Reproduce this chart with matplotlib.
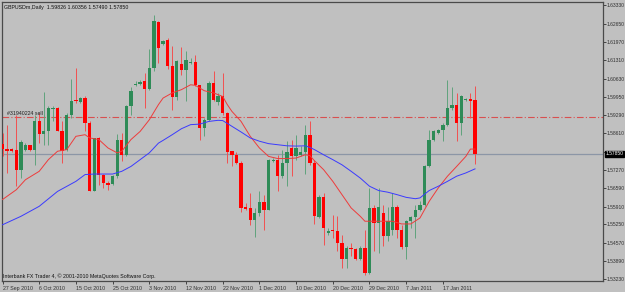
import numpy as np
import matplotlib
matplotlib.use("Agg")
import matplotlib.pyplot as plt
from matplotlib.transforms import blended_transform_factory

# ---------------- data ----------------
opens = [1.5822, 1.5805, 1.5802, 1.5801, 1.5727, 1.5801, 1.5817, 1.5801, 1.5905, 1.5859,
         1.5871, 1.5951, 1.5954, 1.5871, 1.5801, 1.5930, 1.5985, 1.5977, 1.5991, 1.5899,
         1.5650, 1.5844, 1.5709, 1.5678, 1.5674, 1.5703, 1.5835, 1.5782, 1.5961, 1.6038,
         1.6043, 1.6055, 1.6026, 1.6102, 1.6273, 1.6190, 1.6206, 1.6108, 1.5994, 1.6117,
         1.6096, 1.6120, 1.6124, 1.6038, 1.5881, 1.5911, 1.6047, 1.5977, 1.5997, 1.5936,
         1.5795, 1.5782, 1.5752, 1.5588, 1.5586, 1.5542, 1.5567, 1.5607, 1.5580, 1.5758,
         1.5764, 1.5703, 1.5752, 1.5807, 1.5776, 1.5782, 1.5792, 1.5856, 1.5752, 1.5551,
         1.5625, 1.5494, 1.5506, 1.5502, 1.5457, 1.5399, 1.5438, 1.5436, 1.5399, 1.5438,
         1.5346, 1.5586, 1.5531, 1.5567, 1.5481, 1.5506, 1.5590, 1.5506, 1.5441, 1.5537,
         1.5551, 1.5580, 1.5598, 1.5739, 1.5838, 1.5862, 1.5875, 1.5893, 1.5954, 1.5967,
         1.5899, 1.5983, 1.5989, 1.59826]
highs = [1.5862, 1.5893, 1.5807, 1.5930, 1.5838, 1.5825, 1.5819, 1.5930, 1.5936, 1.6013,
         1.5961, 1.5961, 1.5957, 1.5905, 1.5936, 1.6063, 1.6102, 1.5994, 1.5997, 1.5905,
         1.5844, 1.5846, 1.5711, 1.5684, 1.5709, 1.5859, 1.5862, 1.5967, 1.6031, 1.6053,
         1.6059, 1.6083, 1.6173, 1.6298, 1.6276, 1.6206, 1.6212, 1.6182, 1.6133, 1.6178,
         1.6163, 1.6139, 1.6151, 1.6038, 1.5918, 1.6053, 1.6090, 1.6010, 1.6083, 1.5940,
         1.5797, 1.5792, 1.5758, 1.5604, 1.5641, 1.5586, 1.5647, 1.5635, 1.5768, 1.5770,
         1.5782, 1.5801, 1.5832, 1.5838, 1.5856, 1.5813, 1.5891, 1.5905, 1.5764, 1.5635,
         1.5641, 1.5512, 1.5561, 1.5555, 1.5488, 1.5445, 1.5457, 1.5438, 1.5445, 1.5506,
         1.5660, 1.5598, 1.5660, 1.5598, 1.5588, 1.5641, 1.5598, 1.5524, 1.5543, 1.5555,
         1.5598, 1.5610, 1.5746, 1.5875, 1.5875, 1.5878, 1.5899, 1.6059, 1.6031, 1.6010,
         1.6004, 1.5991, 1.6010, 1.60356]
lows = [1.5776, 1.5715, 1.5792, 1.5666, 1.5696, 1.5797, 1.5797, 1.5746, 1.5825, 1.5819,
        1.5819, 1.5905, 1.5868, 1.5752, 1.5797, 1.5918, 1.5973, 1.5973, 1.5868, 1.5647,
        1.5647, 1.5672, 1.5660, 1.5653, 1.5672, 1.5696, 1.5758, 1.5776, 1.5930, 1.6034,
        1.6040, 1.5954, 1.6022, 1.6090, 1.6120, 1.6188, 1.6099, 1.5948, 1.5985, 1.6077,
        1.5981, 1.6117, 1.6034, 1.5838, 1.5850, 1.5905, 1.5979, 1.5967, 1.5930, 1.5752,
        1.5739, 1.5748, 1.5571, 1.5578, 1.5522, 1.5478, 1.5555, 1.5506, 1.5577, 1.5755,
        1.5650, 1.5696, 1.5666, 1.5703, 1.5764, 1.5776, 1.5711, 1.5746, 1.5527, 1.5549,
        1.5448, 1.5488, 1.5475, 1.5426, 1.5365, 1.5365, 1.5408, 1.5395, 1.5395, 1.5338,
        1.5343, 1.5426, 1.5420, 1.5445, 1.5463, 1.5488, 1.5475, 1.5436, 1.5399, 1.5512,
        1.5475, 1.5574, 1.5592, 1.5736, 1.5834, 1.5859, 1.5832, 1.5887, 1.5948, 1.5832,
        1.5856, 1.5979, 1.5918, 1.57490]
closes = [1.5805, 1.5797, 1.5797, 1.5727, 1.5829, 1.5819, 1.5801, 1.5905, 1.5859, 1.5871,
          1.5954, 1.5956, 1.5871, 1.5797, 1.5930, 1.5981, 1.5979, 1.5991, 1.5899, 1.5650,
          1.5844, 1.5709, 1.5678, 1.5672, 1.5703, 1.5835, 1.5782, 1.5961, 1.6016, 1.6044,
          1.6050, 1.6026, 1.6102, 1.6274, 1.6176, 1.6203, 1.6108, 1.5994, 1.6129, 1.6096,
          1.6133, 1.6124, 1.6038, 1.5881, 1.5911, 1.6047, 1.5985, 1.5997, 1.5936, 1.5792,
          1.5782, 1.5752, 1.5586, 1.5581, 1.5543, 1.5567, 1.5607, 1.5580, 1.5764, 1.5764,
          1.5703, 1.5752, 1.5792, 1.5776, 1.5807, 1.5792, 1.5856, 1.5752, 1.5555, 1.5625,
          1.5512, 1.5502, 1.5500, 1.5457, 1.5399, 1.5438, 1.5435, 1.5399, 1.5438, 1.5346,
          1.5586, 1.5531, 1.5590, 1.5481, 1.5537, 1.5590, 1.5506, 1.5441, 1.5537, 1.5551,
          1.5580, 1.5598, 1.5739, 1.5838, 1.5868, 1.5875, 1.5893, 1.5954, 1.5967, 1.5899,
          1.5997, 1.5989, 1.5981, 1.57850]

# red (fast) moving average, read at selected bars
ma_fast_bars = [0, 3, 5, 8, 10, 12, 14, 16, 18, 19, 21, 23, 25, 26, 28, 30, 32, 34, 35, 37,
                39, 41, 42, 44, 46, 48, 49, 50, 52, 54, 56, 58, 60, 62, 64, 66, 67, 68, 70, 72,
                74, 76, 78, 79, 81, 83, 85, 87, 89, 91, 93, 95, 97, 99, 101, 102, 103]
ma_fast_vals = [1.5617, 1.5653, 1.5690, 1.5721, 1.5764, 1.5795, 1.5801, 1.5850, 1.5856, 1.5844,
                1.5838, 1.5807, 1.5789, 1.5795, 1.5838, 1.5868, 1.5911, 1.5967, 1.5991, 1.6010,
                1.6022, 1.6040, 1.6038, 1.6018, 1.6010, 1.5997, 1.5967, 1.5942, 1.5905, 1.5850,
                1.5807, 1.5776, 1.5768, 1.5768, 1.5770, 1.5782, 1.5779, 1.5760, 1.5727, 1.5684,
                1.5635, 1.5586, 1.5555, 1.5537, 1.5537, 1.5537, 1.5537, 1.5527, 1.5527, 1.5549,
                1.5610, 1.5660, 1.5703, 1.5739, 1.5776, 1.5803, 1.5803]
# blue (slow) moving average, read at selected bars
ma_slow_bars = [0, 4, 8, 12, 16, 18, 20, 24, 26, 28, 30, 32, 34, 35, 37, 39, 41, 43, 45, 47,
                48, 50, 52, 54, 56, 58, 60, 62, 64, 66, 67, 68, 70, 72, 74, 76, 78, 80, 82, 84,
                86, 88, 90, 91, 93, 95, 97, 99, 101, 103]
ma_slow_vals = [1.5524, 1.5555, 1.5592, 1.5647, 1.5684, 1.5709, 1.5711, 1.5711, 1.5721, 1.5739,
                1.5764, 1.5789, 1.5825, 1.5835, 1.5856, 1.5878, 1.5893, 1.5895, 1.5905, 1.5909,
                1.5908, 1.5887, 1.5866, 1.5844, 1.5832, 1.5823, 1.5819, 1.5815, 1.5814, 1.5815,
                1.5809, 1.5801, 1.5782, 1.5764, 1.5745, 1.5721, 1.5696, 1.5666, 1.5650, 1.5644,
                1.5635, 1.5625, 1.5620, 1.5623, 1.5650, 1.5666, 1.5684, 1.5703, 1.5715, 1.5730]

date_labels = ["27 Sep 2010", "6 Oct 2010", "15 Oct 2010", "25 Oct 2010", "3 Nov 2010",
               "12 Nov 2010", "22 Nov 2010", "1 Dec 2010", "10 Dec 2010", "20 Dec 2010",
               "29 Dec 2010", "7 Jan 2011", "17 Jan 2011"]
date_label_bars = [0, 8, 16, 24, 32, 40, 48, 56, 64, 72, 80, 88, 96]
price_ticks = [1.63330, 1.62650, 1.61970, 1.61310, 1.60630, 1.59950, 1.59290, 1.58610,
               1.57930, 1.57270, 1.56590, 1.55910, 1.55250, 1.54570, 1.53890, 1.53230]
order_price = 1.5920
order_label = "#31940224 sell"
bid_price = 1.57850
title_text = "GBPUSDm,Daily  1.59826 1.60356 1.57490 1.57850"
footer_text = "Interbank FX Trader 4, \u00a9 2001-2010 MetaQuotes Software Corp."

# ---------------- style ----------------
BG = "#c0c0c0"
BULL = "#2e8b57"
BEAR = "#ff0000"
BULL_WICK = "#5fa37c"
BEAR_WICK = "#f25050"
FONT = "Liberation Sans"
FS = 3.8
FS_Y = 3.6

plt.rcParams["font.family"] = [FONT, "DejaVu Sans"]

fig = plt.figure(figsize=(6.25, 2.92), dpi=100, facecolor=BG)
ax = fig.add_axes([2 / 625, 11 / 292, 601 / 625, 279 / 292], facecolor=BG)

o = np.array(opens); h = np.array(highs); l = np.array(lows); c = np.array(closes)
idx = np.arange(len(o))
up = c >= o
dn = ~up

ax.vlines(idx[up], l[up], h[up], color=BULL_WICK, lw=0.7, zorder=3)
ax.vlines(idx[dn], l[dn], h[dn], color=BEAR_WICK, lw=0.7, zorder=3)
body_h = np.maximum(np.abs(c - o), 0.00025)
body_b = np.minimum(o, c)
ax.bar(idx[up], body_h[up], bottom=body_b[up], width=0.72, color=BULL, lw=0, zorder=4)
ax.bar(idx[dn], body_h[dn], bottom=body_b[dn], width=0.72, color=BEAR, lw=0, zorder=4)

ax.plot(ma_fast_bars, ma_fast_vals, color="#ee3b3b", lw=0.7, zorder=5)
ax.plot(ma_slow_bars, ma_slow_vals, color="#3a3aff", lw=0.7, zorder=5)

# order line and bid line
ax.axhline(order_price, color="#d85050", lw=0.8, ls=(0, (6, 2, 1, 2)), zorder=2)
ax.axhline(bid_price, color="#8c96a6", lw=0.9, zorder=2)
ax.text(1.0, order_price + 0.0004, order_label, fontsize=FS, color="#202020",
        ha="left", va="bottom", zorder=6)

ax.set_xlim(-0.11, 130.9)
ax.set_ylim(1.53167, 1.63451)

# right price axis (the bid box covers the label at its level)
ax.yaxis.tick_right()
ax.set_yticks(price_ticks)
ax.set_yticklabels(["" if abs(p - bid_price) < 0.001 else f"{p:.5f}" for p in price_ticks])
ax.tick_params(axis="y", direction="out", length=2.0, width=0.6, colors="#303030",
               labelsize=FS_Y, pad=0.8)
ax.set_xticks(date_label_bars)
ax.set_xticklabels(date_labels, ha="left")
ax.tick_params(axis="x", direction="out", length=2.5, width=0.6, colors="#303030",
               labelsize=FS, pad=1.0)

for s in ax.spines.values():
    s.set_color("#4a4a4a")
    s.set_linewidth(0.9)

# bid price box on the right axis
trans = blended_transform_factory(ax.transAxes, ax.transData)
ax.text(1.0045, bid_price, f"{bid_price:.5f}", transform=trans, fontsize=FS_Y, color="white",
        ha="left", va="center", zorder=10, clip_on=False,
        bbox=dict(boxstyle="square,pad=0.12", fc="black", ec="black"))

ax.text(0.004, 0.988, title_text, transform=ax.transAxes, fontsize=FS, color="#101010",
        ha="left", va="top", zorder=6)
ax.text(0.002, 0.006, footer_text, transform=ax.transAxes, fontsize=FS, color="#101010",
        ha="left", va="bottom", zorder=6)

fig.savefig("out.png", dpi=100, facecolor=BG)
